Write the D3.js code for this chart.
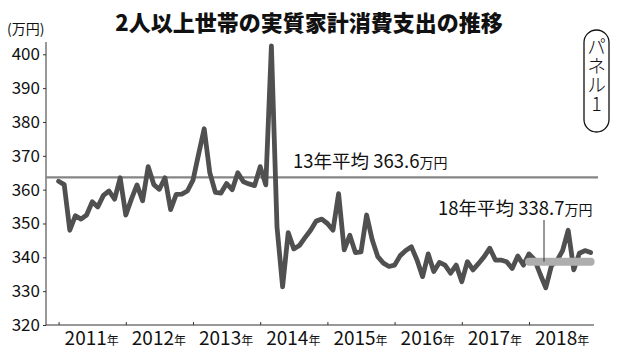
<!DOCTYPE html>
<html>
<head>
<meta charset="utf-8">
<script src="https://cdn.jsdelivr.net/npm/d3@7"></script>
<style>
body { margin: 0; background: #fff; }
text { font-family: "Noto Sans CJK JP", "Noto Sans", sans-serif; fill: #111; }
</style>
</head>
<body>
<div id="chart"></div>
<script>
// monthly values, 万円
var years = ["2011", "2012", "2013", "2014", "2015", "2016", "2017", "2018"];
var v2011 = [362.5, 361.5, 348.0, 352.3, 351.3, 352.5, 356.4, 354.9, 358.3, 359.6, 357.2, 363.5];
var v2012 = [352.5, 357.2, 361.4, 356.7, 366.8, 361.5, 360.1, 363.5, 354.1, 358.6, 358.7, 359.6];
var v2013 = [362.8, 370.5, 378.0, 365.0, 359.2, 359.0, 361.8, 360.0, 365.0, 362.3, 361.7, 361.2];
var v2014 = [366.8, 361.4, 402.5, 349.0, 331.3, 347.3, 342.5, 343.5, 345.8, 348.0, 350.7, 351.3];
var v2015 = [350.0, 348.0, 358.8, 342.2, 346.5, 341.4, 341.6, 352.5, 345.2, 340.2, 338.3, 337.3];
var v2016 = [337.7, 340.5, 342.0, 343.1, 339.2, 334.3, 341.0, 335.8, 338.5, 337.7, 335.3, 337.7];
var v2017 = [332.8, 338.7, 336.3, 338.2, 340.2, 342.7, 339.2, 339.2, 338.7, 336.7, 340.4, 337.7];
var v2018 = [341.0, 339.3, 335.0, 331.0, 337.5, 339.0, 342.0, 348.0, 336.3, 341.2, 342.0, 341.4];
var yTicks = [320, 330, 340, 350, 360, 370, 380, 390, 400];
var avg13 = 363.6;
var avg18 = 338.7;

var values = [].concat(v2011, v2012, v2013, v2014, v2015, v2016, v2017, v2018);

var W = 620, H = 351;
var axisLeft = 46, axisRight = 594, axisTop = 42, axisBottom = 325;

var svg = d3.select("#chart").append("svg")
  .attr("width", W).attr("height", H)
  .style("display", "block");

var x = d3.scaleLinear().domain([0, 96]).range([58.6, 596.2]);
var y = d3.scaleLinear().domain([320, 400]).range([axisBottom, 54.3]);

// title
svg.append("text")
  .attr("x", 309).attr("y", 31)
  .attr("text-anchor", "middle")
  .attr("font-size", "22px").attr("font-weight", 900)
  .text("2人以上世帯の実質家計消費支出の推移");

svg.append("text")
  .attr("x", 7).attr("y", 34)
  .attr("font-size", "14px")
  .text("(万円)");

// y axis
var yAxis = svg.append("g")
  .attr("transform", "translate(" + axisLeft + ",0)")
  .call(d3.axisLeft(y).tickValues(yTicks).tickSize(3).tickPadding(3).tickSizeOuter(0));
yAxis.select(".domain").remove();
yAxis.selectAll("line").attr("stroke", "#333");
yAxis.selectAll("text").attr("font-size", "17px").attr("font-family", null);
svg.append("line")
  .attr("x1", axisLeft).attr("x2", axisLeft)
  .attr("y1", axisTop).attr("y2", axisBottom)
  .attr("stroke", "#333").attr("stroke-width", 1);

// x axis
var xAxis = svg.append("g")
  .attr("transform", "translate(0," + axisBottom + ")")
  .call(d3.axisBottom(x).tickValues(years.map(function(d, i) { return i * 12; }))
    .tickSize(-3).tickFormat("").tickSizeOuter(0));
xAxis.select(".domain").remove();
xAxis.selectAll("line").attr("stroke", "#333");
svg.append("line")
  .attr("x1", axisLeft).attr("x2", axisRight)
  .attr("y1", axisBottom).attr("y2", axisBottom)
  .attr("stroke", "#333").attr("stroke-width", 1);

var yl = svg.append("g").selectAll("text")
  .data(years).enter().append("text")
  .attr("x", function(d, i) { return x(i * 12) + 6; })
  .attr("y", 345)
  .attr("font-size", "19px");
yl.append("tspan").text(function(d) { return d; });
yl.append("tspan").attr("font-size", "12px").text("年");

// 13年 average
svg.append("line")
  .attr("x1", axisLeft).attr("x2", 598)
  .attr("y1", y(avg13)).attr("y2", y(avg13))
  .attr("stroke", "#858585").attr("stroke-width", 2.2);

// the series
var line = d3.line()
  .x(function(d, i) { return x(i); })
  .y(function(d) { return y(d); });
svg.append("path")
  .datum(values)
  .attr("d", line)
  .attr("fill", "none")
  .attr("stroke", "#505050")
  .attr("stroke-width", 4.8)
  .attr("stroke-linejoin", "round")
  .attr("stroke-linecap", "round");

// 18年 average bar
svg.append("line")
  .attr("x1", x(84)).attr("x2", x(95))
  .attr("y1", y(avg18)).attr("y2", y(avg18))
  .attr("stroke", "#aeaeae").attr("stroke-width", 8)
  .attr("stroke-linecap", "round");

svg.append("line")
  .attr("x1", 544).attr("x2", 544)
  .attr("y1", 220).attr("y2", y(avg18))
  .attr("stroke", "#333").attr("stroke-width", 1);

var t13 = svg.append("text").attr("x", 293).attr("y", 168).attr("font-size", "18.5px");
t13.append("tspan").text("13年平均 " + avg13.toFixed(1));
t13.append("tspan").attr("font-size", "14px").text("万円");

var t18 = svg.append("text").attr("x", 438).attr("y", 215).attr("font-size", "18.5px");
t18.append("tspan").text("18年平均 " + avg18.toFixed(1));
t18.append("tspan").attr("font-size", "14px").text("万円");

// panel label
svg.append("rect")
  .attr("x", 584).attr("y", 30).attr("width", 25).attr("height", 102)
  .attr("rx", 12.5).attr("ry", 12.5)
  .attr("fill", "#fff").attr("stroke", "#111").attr("stroke-width", 1.3);
svg.append("text")
  .attr("x", 596.5).attr("y", 37)
  .attr("font-size", "19px")
  .attr("font-weight", 300)
  .style("writing-mode", "vertical-rl")
  .style("text-orientation", "upright")
  .text("パネル1");
</script>
</body>
</html>
